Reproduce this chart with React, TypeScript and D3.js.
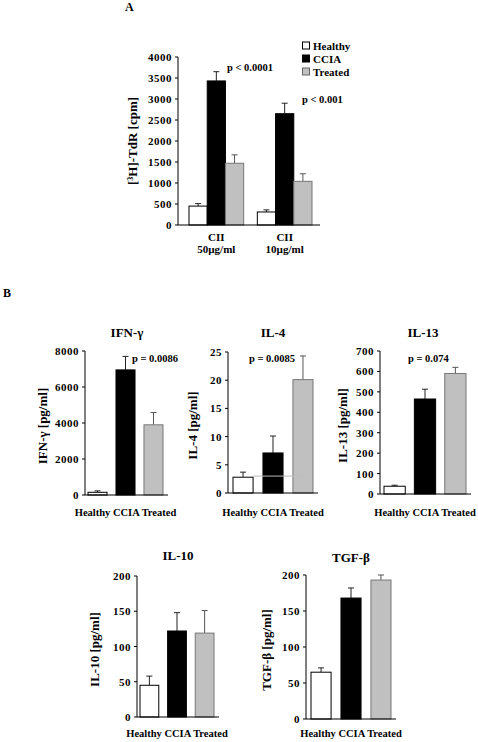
import React from "react";
import * as d3 from "d3";

// ---------- DATA ----------
const seriesNames = ["Healthy", "CCIA", "Treated"];

// Panel A
const groupsA = ["CII|50µg/ml", "CII|10µg/ml"];
const aHealthy = [450, 310];
const aHealthyErr = [60, 50];
const aCCIA = [3430, 2650];
const aCCIAErr = [220, 250];
const aTreated = [1470, 1040];
const aTreatedErr = [200, 180];
const aTicks = [0, 500, 1000, 1500, 2000, 2500, 3000, 3500, 4000];
const aPValues = ["p < 0.0001", "p < 0.001"];

// Panel B
const ifnMeans = [150, 6950, 3900];
const ifnErr = [80, 750, 680];
const ifnTicks = [0, 2000, 4000, 6000, 8000];

const il4Means = [2.8, 7.1, 20.1];
const il4Err = [0.9, 3, 4.2];
const il4Ticks = [0, 5, 10, 15, 20, 25];
const il4RefLine = 3;

const il13Means = [38, 465, 590];
const il13Err = [5, 48, 30];
const il13Ticks = [0, 100, 200, 300, 400, 500, 600, 700];

const il10Means = [45, 122, 119];
const il10Err = [13, 26, 32];
const il10Ticks = [0, 50, 100, 150, 200];

const tgfMeans = [65, 168, 193];
const tgfErr = [6, 14, 7];
const tgfTicks = [0, 50, 100, 150, 200];

// ---------- STYLE ----------
const FONT = "'Liberation Serif', 'Times New Roman', serif";
const fills: Record<string, string> = { Healthy: "#ffffff", CCIA: "#000000", Treated: "#c0c0c0" };
const strokes: Record<string, string> = { Healthy: "#000000", CCIA: "#000000", Treated: "#777777" };
const errColor: Record<string, string> = { Healthy: "#222", CCIA: "#222", Treated: "#555" };

function YAxis({ y, x, ticks }: { y: d3.ScaleLinear<number, number>; x: number; ticks: number[] }) {
  return (
    <g>
      <line x1={x} x2={x} y1={y(ticks[ticks.length - 1])} y2={y(0)} stroke="#000" strokeWidth={1} />
      {ticks.map((t) => (
        <g key={t}>
          <line x1={x - 3} x2={x} y1={y(t)} y2={y(t)} stroke="#000" strokeWidth={1} />
          <text
            x={x - 6}
            y={y(t) + 4}
            textAnchor="end"
            fontSize={11}
            fontWeight="bold"
            letterSpacing={0.5}
            fontFamily={FONT}
          >
            {t}
          </text>
        </g>
      ))}
    </g>
  );
}

function Bar({ x, w, y0, yv, yErr, name }: { x: number; w: number; y0: number; yv: number; yErr: number; name: string }) {
  const cx = x + w / 2;
  return (
    <g>
      <line x1={cx} x2={cx} y1={yv} y2={yErr} stroke={errColor[name]} strokeWidth={1} />
      <line x1={cx - 3} x2={cx + 3} y1={yErr} y2={yErr} stroke={errColor[name]} strokeWidth={1} />
      <rect x={x} y={yv} width={w} height={y0 - yv} fill={fills[name]} stroke={strokes[name]} strokeWidth={1} />
    </g>
  );
}

function PanelA() {
  const axisX = 178;
  const y = d3.scaleLinear().domain([0, 4000]).range([225, 57]);
  const xg = d3.scaleBand().domain(groupsA).range([189, 312]).paddingInner(0.2);
  const xs = d3.scaleBand().domain(seriesNames).range([0, xg.bandwidth()]);
  const vals: Record<string, number[]> = { Healthy: aHealthy, CCIA: aCCIA, Treated: aTreated };
  const errs: Record<string, number[]> = { Healthy: aHealthyErr, CCIA: aCCIAErr, Treated: aTreatedErr };
  return (
    <g>
      <text x={125} y={11} fontSize={12} fontWeight="bold" fontFamily={FONT}>A</text>
      {groupsA.map((g, gi) =>
        seriesNames.map((s) => (
          <Bar
            key={g + s}
            x={(xg(g) as number) + (xs(s) as number)}
            w={xs.bandwidth()}
            y0={y(0)}
            yv={y(vals[s][gi])}
            yErr={y(vals[s][gi] + errs[s][gi])}
            name={s}
          />
        ))
      )}
      <YAxis y={y} x={axisX} ticks={aTicks} />
      <line x1={axisX} x2={320} y1={y(0)} y2={y(0)} stroke="#000" strokeWidth={1} />
      {groupsA.map((g) => {
        const [l1, l2] = g.split("|");
        const cx = (xg(g) as number) + xg.bandwidth() / 2;
        return (
          <g key={g}>
            <text x={cx} y={241} textAnchor="middle" fontSize={11} fontWeight="bold" fontFamily={FONT}>{l1}</text>
            <text x={cx} y={253} textAnchor="middle" fontSize={11} fontWeight="bold" fontFamily={FONT}>{l2}</text>
          </g>
        );
      })}
      <text x={227} y={71} fontSize={10.5} fontWeight="bold" fontFamily={FONT}>{aPValues[0]}</text>
      <text x={302} y={103} fontSize={10.5} fontWeight="bold" fontFamily={FONT}>{aPValues[1]}</text>
      <text
        transform={`translate(137,${(y(0) + y(4000)) / 2}) rotate(-90)`}
        textAnchor="middle"
        fontSize={13}
        fontWeight="bold"
        fontFamily={FONT}
      >
        [<tspan fontSize={8} baselineShift="super">3</tspan>H]-TdR [cpm]
      </text>
      {seriesNames.map((s, i) => (
        <g key={s}>
          <rect x={302.5} y={42 + i * 13} width={7} height={7} fill={fills[s]} stroke={s === "Treated" ? "#666" : "#000"} strokeWidth={1} />
          <text x={313} y={49.5 + i * 13} fontSize={11} fontWeight="bold" fontFamily={FONT}>{s}</text>
        </g>
      ))}
    </g>
  );
}

interface PanelProps {
  title: string;
  yLabel: string;
  means: number[];
  errs: number[];
  ticks: number[];
  axisX: number;
  y0: number;
  yMaxPx: number;
  barRange: [number, number];
  padding: number;
  titleX: number;
  titleY: number;
  yLabelX: number;
  xLabelY: number;
  pValue?: string;
  pX?: number;
  refLine?: number;
}

function Panel(p: PanelProps) {
  const y = d3.scaleLinear().domain([0, p.ticks[p.ticks.length - 1]]).range([p.y0, p.yMaxPx]);
  const x = d3.scaleBand().domain(seriesNames).range(p.barRange).paddingInner(p.padding);
  const right = p.barRange[1] + 5;
  return (
    <g>
      <text x={p.titleX} y={p.titleY} textAnchor="middle" fontSize={13} fontWeight="bold" fontFamily={FONT}>{p.title}</text>
      {seriesNames.map((s, i) => (
        <Bar
          key={s}
          x={x(s) as number}
          w={x.bandwidth()}
          y0={y(0)}
          yv={y(p.means[i])}
          yErr={y(p.means[i] + p.errs[i])}
          name={s}
        />
      ))}
      {p.refLine !== undefined && (
        <line
          x1={(x("Healthy") as number) + x.bandwidth()}
          x2={(x("Treated") as number) + x.bandwidth() / 2}
          y1={y(p.refLine)}
          y2={y(p.refLine)}
          stroke="#bbb"
          strokeWidth={1}
        />
      )}
      <YAxis y={y} x={p.axisX} ticks={p.ticks} />
      <line x1={p.axisX} x2={right} y1={y(0)} y2={y(0)} stroke="#000" strokeWidth={1} />
      <text
        x={(x("CCIA") as number) + x.bandwidth() / 2}
        y={p.xLabelY}
        textAnchor="middle"
        fontSize={10.5}
        fontWeight="bold"
        fontFamily={FONT}
      >
        {seriesNames.join(" ")}
      </text>
      <text
        transform={`translate(${p.yLabelX},${(y(0) + y(p.ticks[p.ticks.length - 1])) / 2 + 3}) rotate(-90)`}
        textAnchor="middle"
        fontSize={13}
        fontWeight="bold"
        fontFamily={FONT}
      >
        {p.yLabel}
      </text>
      {p.pValue && (
        <text x={p.pX} y={362} fontSize={10.5} fontWeight="bold" fontFamily={FONT}>{p.pValue}</text>
      )}
    </g>
  );
}

export default function App() {
  return (
    <svg
      width={478}
      height={742}
      style={{ position: "absolute", left: 0, top: 0, background: "#fff" }}
      fontFamily={FONT}
    >
      <rect width={478} height={742} fill="#fff" />
      <PanelA />
      <text x={3} y={297} fontSize={12} fontWeight="bold" fontFamily={FONT}>B</text>
      <Panel
        title="IFN-γ" yLabel="IFN-γ [pg/ml]" means={ifnMeans} errs={ifnErr} ticks={ifnTicks}
        axisX={85} y0={495} yMaxPx={351} barRange={[88, 163]} padding={0.32}
        titleX={127} titleY={337} yLabelX={47} xLabelY={516} pValue="p = 0.0086" pX={132}
      />
      <Panel
        title="IL-4" yLabel="IL-4 [pg/ml]" means={il4Means} errs={il4Err} ticks={il4Ticks}
        axisX={228} y0={493} yMaxPx={352} barRange={[233, 313]} padding={0.33}
        titleX={273} titleY={337} yLabelX={197} xLabelY={516} pValue="p = 0.0085" pX={249}
        refLine={il4RefLine}
      />
      <Panel
        title="IL-13" yLabel="IL-13 [pg/ml]" means={il13Means} errs={il13Err} ticks={il13Ticks}
        axisX={380} y0={494} yMaxPx={351} barRange={[384, 466]} padding={0.3}
        titleX={423} titleY={337} yLabelX={347} xLabelY={516} pValue="p = 0.074" pX={408}
      />
      <Panel
        title="IL-10" yLabel="IL-10 [pg/ml]" means={il10Means} errs={il10Err} ticks={il10Ticks}
        axisX={137} y0={717} yMaxPx={576} barRange={[140, 214]} padding={0.32}
        titleX={178} titleY={560} yLabelX={99} xLabelY={737}
      />
      <Panel
        title="TGF-β" yLabel="TGF-β [pg/ml]" means={tgfMeans} errs={tgfErr} ticks={tgfTicks}
        axisX={306} y0={719} yMaxPx={575} barRange={[311, 391]} padding={0.33}
        titleX={351} titleY={562} yLabelX={271} xLabelY={737}
      />
    </svg>
  );
}
